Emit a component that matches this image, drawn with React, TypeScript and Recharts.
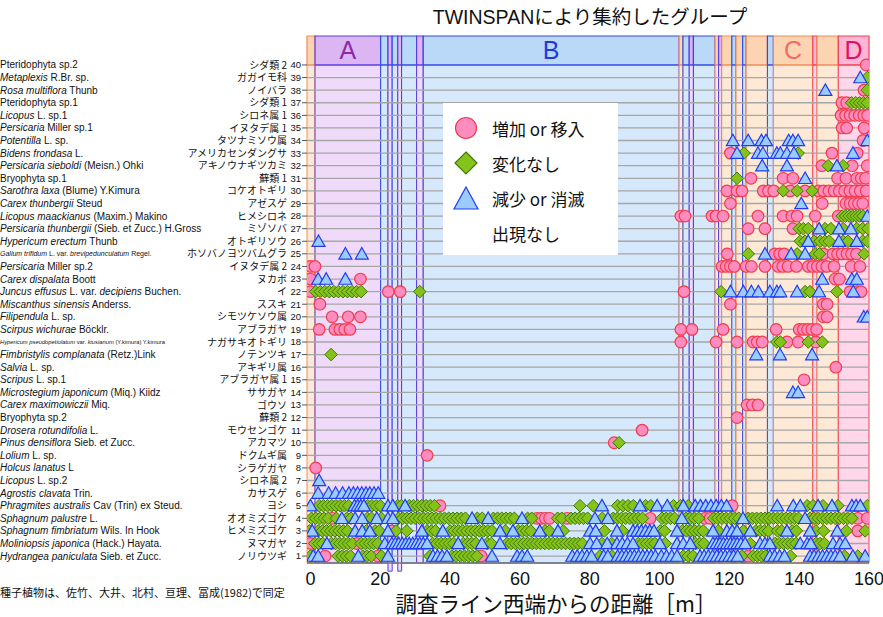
import {
  ComposedChart,
  Scatter,
  XAxis,
  YAxis,
  ReferenceArea,
  ReferenceLine,
} from "recharts";

const FONT = "'Liberation Sans', 'Noto Sans CJK JP', Arial, sans-serif";
const JP = "'Noto Sans CJK JP', 'Liberation Sans', sans-serif";

// species per row, index = row - 1 (row 1 at the bottom)
const sciNames = [
  "*Hydrangea paniculata* Sieb. et Zucc.",
  "*Moliniopsis japonica* (Hack.) Hayata.",
  "*Sphagnum fimbriatum* Wils. In Hook",
  "*Sphagnum palustre* L.",
  "*Phragmites australis* Cav (Trin) ex Steud.",
  "*Agrostis clavata* Trin.",
  "*Licopus* L. sp.2",
  "*Holcus lanatus* L",
  "*Lolium* L. sp.",
  "*Pinus densiflora* Sieb. et Zucc.",
  "*Drosera rotundifolia* L.",
  "Bryophyta sp.2",
  "*Carex maximowiczii* Miq.",
  "*Microstegium japonicum* (Miq.) Kiidz",
  "*Scripus* L. sp.1",
  "*Salvia* L. sp.",
  "*Fimbristylis complanata* (Retz.)Link",
  "*Hypericum pseudopetiolatum* var. *kiusianum* (Y.kimura) Y.kimura",
  "*Scirpus wichurae* Böcklr.",
  "*Filipendula* L. sp.",
  "*Miscanthus sinensis* Anderss.",
  "*Juncus effusus* L. var. *decipiens* Buchen.",
  "*Carex dispalata* Boott",
  "*Persicaria* Miller sp.2",
  "*Galium trifidum* L. var. *brevipedunculatum* Regel.",
  "*Hypericum erectum* Thunb",
  "*Persicaria thunbergii* (Sieb. et Zucc.) H.Gross",
  "*Licopus maackianus* (Maxim.) Makino",
  "*Carex thunbergii* Steud",
  "*Sarothra laxa* (Blume) Y.Kimura",
  "Bryophyta sp.1",
  "*Persicaria sieboldi* (Meisn.) Ohki",
  "*Bidens frondasa* L.",
  "*Potentilla* L. sp.",
  "*Persicaria* Miller sp.1",
  "*Licopus* L. sp.1",
  "Pteridophyta sp.1",
  "*Rosa multiflora* Thunb",
  "*Metaplexis* R.Br. sp.",
  "Pteridophyta sp.2",
];

const jpNames = [
  "ノリウツギ", "ヌマガヤ", "ヒメミズゴケ", "オオミズゴケ", "ヨシ",
  "カサスゲ", "シロネ属 2", "シラゲガヤ", "ドクムギ属", "アカマツ",
  "モウセンゴケ", "蘚類 2", "ゴウソ", "ササガヤ", "アブラガヤ属 1",
  "アキギリ属", "ノテンツキ", "ナガサキオトギリ", "アブラガヤ", "シモツケソウ属",
  "ススキ", "イ", "ヌカボ", "イヌタデ属 2", "ホソバノヨツバムグラ",
  "オトギリソウ", "ミゾソバ", "ヒメシロネ", "アゼスゲ", "コケオトギリ",
  "蘚類 1", "アキノウナギツカミ", "アメリカセンダングサ", "タツナミソウ属", "イヌタデ属 1",
  "シロネ属 1", "シダ類 1", "ノイバラ", "ガガイモ科", "シダ類 2",
];

const smallNameSize: Record<number, number> = { 25: 7, 18: 5.8 };

const rowTicks = [
  1, 2, 3, 4, 5, 6, 7, 8, 9, 10, 11, 12, 13, 14, 15, 16, 17, 18, 19, 20,
  21, 22, 23, 24, 25, 26, 27, 28, 29, 30, 31, 32, 33, 34, 35, 36, 37, 38, 39, 40,
];
const gridRows = rowTicks.slice(0, 39);
const xTicks = [0, 20, 40, 60, 80, 100, 120, 140, 160];

// TWINSPAN group segments along the line (m)
const bandEdges = [
  -1, 1.3, 20.1, 22.2, 23.4, 25, 26.1, 30.4, 32.3, 105.6, 106.7, 108.5, 109.7,
  115.9, 116.9, 117.8, 120.7, 121.9, 123.8, 124.8, 130.9, 132.6, 143.9, 145.1,
  151.2, 160,
];
const bandGroups = [
  "C", "A", "B", "A", "B", "A", "B", "A", "B", "C", "B", "A", "B", "C", "A",
  "C", "B", "C", "B", "C", "B", "C", "D", "C", "D",
];
const bandLabels: Record<number, string> = { 1: "A", 8: "B", 21: "C", 24: "D" };
const tabBands = [3, 5];

const groupStyle: Record<string, { body: string; head: string; line: string; text: string }> = {
  A: { body: "#efdafa", head: "#dcb6f2", line: "#5a3ee0", text: "#8a2aa8" },
  B: { body: "#d6e8fb", head: "#bad8f7", line: "#3348e6", text: "#1f3be0" },
  C: { body: "#fee9d6", head: "#fcd4b2", line: "#f08a5a", text: "#f26a6a" },
  D: { body: "#ffd6ea", head: "#ffb6d6", line: "#f04050", text: "#e8105e" },
};

// 増加 or 移入 : [row, positions (m)]
const increase: [number, number[]][] = [
  [40, [159.2]],
  [38, [158.6]],
  [37, [152.2, 153.6]],
  [36, [152, 153.3, 154.6, 155.9, 157.2, 158.5, 159.6]],
  [35, [152.3, 153.6, 158.6]],
  [34, [158.3]],
  [33, [120.3, 149.4, 156.6]],
  [32, [146.5, 155.2, 159.5]],
  [31, [126.2, 135.4, 138.2, 151, 153.4, 156.5, 157.8, 159]],
  [30, [119.3, 122.2, 123.6, 129.7, 131.2, 132.7, 137.4, 141.7, 145.5, 147, 148.5, 150, 151.5, 153, 154.5, 156, 157.5, 159.2]],
  [29, [120.3, 146.6, 153.4, 154.6, 155.8, 157, 158.2]],
  [28, [106.1, 107.3, 115, 116.2, 118.2, 128.2, 135.4, 137.9, 139.4, 144.6, 151.2]],
  [27, [125.4, 130.2, 138.2]],
  [25, [119.4, 133, 134.4, 135.7, 146.9, 149.7, 151, 152.3, 153.7, 155, 156.4]],
  [24, [0, 1.3, 117.9, 119.1, 120.3, 121.4, 124.8, 126.3, 130.2, 134, 135.3, 136.8, 139.2, 142.6, 143.9, 145.2, 146.5, 147.9, 150, 154.9, 157.4]],
  [23, [0, 14.3, 150.3, 151.5]],
  [22, [0, 22.3, 25.7, 107, 154.6, 156.6, 157.7]],
  [21, [2.7, 120.3, 146.9, 148]],
  [20, [6.2, 10.8, 14.3, 146.9, 148]],
  [19, [2.5, 7, 8.4, 9.8, 11.3, 106.1, 109.3, 118.2, 133.4, 140, 141.2, 142.4, 143.6, 145]],
  [18, [106.1, 116.2, 122.2, 126.8, 128, 129.4, 136.5, 139.7, 144.8]],
  [16, [150.5]],
  [15, [141.4]],
  [13, [125.1, 126.6, 128.2]],
  [12, [122.2]],
  [11, [95]],
  [10, [87]],
  [9, [33.4]],
  [8, [1.5]],
  [5, [37.1, 120.8]],
  [4, [6.2, 64.9, 66.1, 67.3, 68.5, 73.5, 97.3, 113, 114.5, 156.8, 159.5]],
  [3, [23.3, 156.8]],
  [2, [0, 13.3]],
  [1, [4.2, 19.3, 48.9, 125.4]],
];

// 変化なし
const unchanged: [number, number[]][] = [
  [39, [159.5]],
  [38, [159.5]],
  [37, [155, 156.2, 157.3, 158.4, 159.5]],
  [33, [124.2, 139.7]],
  [32, [148.3, 152.6]],
  [31, [122.2]],
  [30, [135.4, 139.4, 143.7]],
  [28, [152.3, 153.3, 154.3, 155.3, 156.3, 157.3, 158.3]],
  [27, [140, 141.2, 142.6, 147.4, 149.1, 152.6, 156.5, 158.2, 159.7]],
  [26, [140.3, 141.7, 144.3, 146, 147.4, 148.6, 152.6, 154, 158.2, 159.6]],
  [25, [125.4, 139.4, 144.6, 145.8, 158.6]],
  [22, [1.5, 2.8, 4.1, 5.4, 6.7, 8, 9.3, 10.6, 11.9, 13.2, 14.5, 31.3, 117.6, 141.7, 143.1, 150.8]],
  [18, [133.6, 134.6, 142.6, 146.6]],
  [17, [5.9]],
  [10, [88.4]],
  [5, [2.5, 3.7, 4.9, 6.1, 7.3, 8.5, 9.7, 10.9, 16.4, 17.6, 18.8, 20, 25, 26, 28.3, 29.5, 30.7, 31.9, 33.1, 34.3, 35.5, 77.2, 81, 88, 89.5, 91, 92.5, 96, 97.5, 104, 106, 108.2, 142.3, 144, 146.8, 151.1, 159.5]],
  [4, [0.3, 1.5, 2.7, 3.9, 5.1, 7.4, 10.4, 11.6, 16.3, 17.5, 20.3, 25.2, 26.4, 27.6, 28.8, 30, 31.2, 32.4, 33.6, 34.8, 36, 37.2, 38.4, 39.6, 40.8, 42, 43.2, 44.4, 47.8, 49.2, 52.4, 53.6, 54.8, 56, 57.2, 58.4, 62.2, 63.4, 70.8, 72, 74.6, 75.8, 77, 78.2, 79.4, 83.6, 86.7, 87.9, 89.1, 90.3, 91.5, 92.7, 93.9, 95.1, 100.7, 101.9, 103.1, 104.3, 107.6, 108.8, 110, 111.2, 115.5, 116.7, 117.9, 119.1, 120.3, 121.5, 122.7, 125.4, 126.6, 127.8, 129, 130.2, 131.4, 132.6, 133.8, 135, 136.2, 137.4, 138.6, 139.8, 143.1, 144.3, 145.5, 146.7, 147.9, 149.1, 150.3, 151.5, 152.7, 153.9, 155.1]],
  [3, [-0.3, 2.2, 3.4, 4.6, 5.8, 7, 8.2, 9.4, 10.6, 16, 18.5, 19.7, 24.5, 27.6, 33.4, 34.6, 35.8, 40, 41.2, 42.4, 43.6, 44.8, 46, 47.2, 48.4, 49.6, 50.8, 52, 55.8, 59.5, 60.7, 61.9, 63.1, 67.2, 68.4, 72.4, 84.2, 89.4, 100.2, 101.4, 106.5, 107.7, 108.9, 110.1, 111.3, 112.5, 116.8, 124, 127.6, 128.8, 130, 131.2, 133.8, 135, 138, 139.2, 144.8, 147, 153.5, 158.9]],
  [2, [1.2, 2.4, 3.5, 6, 7.2, 8.4, 9.6, 10.8, 12, 14.5, 15.7, 16.9, 18.1, 19.3, 35, 36.2, 37.4, 38.6, 39.8, 41, 43.8, 45, 46.2, 47.4, 50.6, 51.8, 56.3, 57.5, 58.7, 59.9, 61.1, 62.3, 63.5, 64.7, 65.9, 67.1, 68.3, 69.5, 70.7, 71.9, 73.1, 74.3, 75.5, 76.7, 77.9, 83.5, 86.3, 93.9, 95.1, 96.3, 97.5, 98.7, 101.6, 110.3, 111.5, 112.7, 126, 133.1, 134.3, 135.5, 136.7, 137.9, 139.1, 144.8, 146, 147.2]],
  [1, [0, 7.9, 9.1, 10.3, 11.5, 15, 16.2, 17.4, 20.3, 34.2, 40.5, 41.7, 42.9, 44.1, 45.3, 46.5, 47.7, 82.9, 86.4, 106.8, 108.2, 109.6, 123.6, 126.8, 128, 129.2, 130.4, 137.5, 153, 156.8]],
];

// 減少 or 消滅
const decrease: [number, number[]][] = [
  [39, [157.5]],
  [38, [147.5]],
  [34, [121, 125.4, 129.2, 130.5, 137, 138.2, 139.7, 159.5]],
  [33, [122.2, 128.2, 129.6, 133.6, 134.6, 136.5, 138.5, 155.4]],
  [32, [129.4, 136.5, 150.8]],
  [31, [141.7]],
  [29, [140.6]],
  [28, [159.5]],
  [27, [145.7, 151.4, 154.8]],
  [26, [2.3, 142.6, 151.4, 156.5]],
  [25, [10, 14.7, 130.2, 137.7, 141.7]],
  [23, [2.2, 4.5, 10, 146.6, 155.1, 156.5]],
  [22, [120.3, 124, 126.3, 128.3, 131.6, 133.6, 134.6, 139.4, 145.7, 155.5]],
  [20, [158.5, 159.5]],
  [17, [127.7, 134.5, 143.7]],
  [14, [138.2, 139.7]],
  [7, [2.5]],
  [6, [2.2, 5.2, 7.2, 9.2, 11, 12.3, 13.5, 14.7, 15.9, 17, 18.2, 19.4]],
  [5, [0, 12.6, 13.5, 14.4, 15.3, 22.2, 23.6, 27.1, 83.5, 94.4, 99.3, 102.2, 106.8, 110.2, 111.7, 113.2, 114.7, 116.2, 117.7, 119.2, 133.7, 138.3, 140.3, 145.4, 149.4, 155.1, 156.3, 157.5]],
  [4, [9, 12.8, 14.8, 19, 22.2, 23.6, 46.3, 50.9, 60.6, 81.5, 85.2, 106.4, 123.9, 141.7]],
  [3, [0.5, 12.8, 14.8, 17, 22.2, 31.9, 37.9, 54.3, 58, 65.7, 70.9, 80.1, 81.7, 87.8, 92.4, 93.6, 94.8, 96, 97.2, 98.4, 105, 115.3, 119.3, 120.8, 122.2, 126, 136.5, 143.1, 150.9]],
  [2, [4.7, 21.3, 23.3, 24.3, 25.3, 26.3, 27.3, 28.3, 29.3, 30.3, 31.3, 32.3, 33.4, 42.3, 49.1, 54.3, 80.1, 82, 85, 87.8, 89.3, 90.8, 92.4, 100.1, 105, 106.8, 108.8, 115.3, 116.3, 117.3, 118.3, 119.3, 120.3, 121.3, 122.3, 123.3, 124.5, 128.8, 130.2, 131.6, 140.3, 142.3, 143.3, 149.7, 151.7, 153.2]],
  [1, [0.8, 2.2, 13.7, 22.2, 35.1, 36.4, 37.7, 39.1, 52, 59.2, 60.6, 62.1, 75, 76.4, 77.8, 79.2, 80.5, 84, 85.2, 88, 89.2, 90.4, 91.6, 92.8, 94, 95.2, 96.4, 97.6, 98.8, 100.5, 102, 103.5, 105, 111.6, 112.8, 114, 115.2, 116.4, 117.6, 118.8, 120, 121.2, 122.4, 131.6, 133, 134.4, 135.8, 143.1, 144.3, 145.5, 146.7, 147.9, 149.1, 150.3, 151.7, 155.4, 158.9]],
];

const legendItems = ["増加 or 移入", "変化なし", "減少 or 消滅", "出現なし"];

const toPoints = (list: [number, number[]][]) =>
  list.flatMap(([row, xs]) => xs.map((x) => ({ x, y: row })));

const PINK = { fill: "#ff8cbf", stroke: "#f03c4c" };
const GREEN = { fill: "#86c21c", stroke: "#3d7a00" };
const BLUE = { fill: "#9ccbff", stroke: "#1f3cf0" };

const CircleMark = (p: any) => (
  <circle cx={p.cx} cy={p.cy} r={5.8} fill={PINK.fill} stroke={PINK.stroke} strokeWidth={1.2} />
);
const DiamondMark = (p: any) => (
  <polygon
    points={`${p.cx},${p.cy - 6.3} ${p.cx + 6.3},${p.cy} ${p.cx},${p.cy + 6.3} ${p.cx - 6.3},${p.cy}`}
    fill={GREEN.fill}
    stroke={GREEN.stroke}
    strokeWidth={1}
  />
);
const TriangleMark = (p: any) => (
  <polygon
    points={`${p.cx},${p.cy - 6.3} ${p.cx + 6.5},${p.cy + 5.2} ${p.cx - 6.5},${p.cy + 5.2}`}
    fill={BLUE.fill}
    stroke={BLUE.stroke}
    strokeWidth={1.2}
  />
);

const SpeciesTick = (props: any) => {
  const row = props.payload.value;
  const y = props.y;
  const parts = sciNames[row - 1].split("*");
  const size = smallNameSize[row] || 10;
  return (
    <g>
      <text x={0} y={y} dy="0.35em" fontSize={size} fill="#111" fontFamily={FONT}>
        {parts.map((t, i) =>
          t ? (
            <tspan key={i} fontStyle={i % 2 === 1 ? "italic" : "normal"}>
              {t}
            </tspan>
          ) : null
        )}
      </text>
      <text x={287} y={y} dy="0.36em" fontSize={10} fill="#111" textAnchor="end" fontFamily={JP}>
        {jpNames[row - 1]}
      </text>
      <text x={301} y={y} dy="0.36em" fontSize={9.5} fill="#111" textAnchor="end" fontFamily={FONT}>
        {row}
      </text>
    </g>
  );
};

const LegendIcon = ({ i }: { i: number }) => {
  if (i === 0)
    return <circle cx={13} cy={12} r={10.5} fill={PINK.fill} stroke={PINK.stroke} strokeWidth={1.2} />;
  if (i === 1)
    return <polygon points="13,1 24,12 13,23 2,12" fill={GREEN.fill} stroke={GREEN.stroke} strokeWidth={1.2} />;
  if (i === 2)
    return <polygon points="13,1 25,23 1,23" fill={BLUE.fill} stroke={BLUE.stroke} strokeWidth={1.2} />;
  return null;
};

export default function App() {
  const circles = toPoints(increase);
  const diamonds = toPoints(unchanged);
  const triangles = toPoints(decrease);
  const segs = bandGroups.map((g, i) => ({ g, x1: bandEdges[i], x2: bandEdges[i + 1], i }));

  return (
    <div style={{ position: "absolute", left: 0, top: 0, width: 883, height: 617, background: "#fff", fontFamily: FONT }}>
      <ComposedChart width={883} height={617} margin={{ top: 36, right: 14, bottom: 24, left: 0 }}>
        <XAxis
          type="number"
          dataKey="x"
          domain={[-1, 160]}
          ticks={xTicks}
          allowDataOverflow
          height={30}
          tickLine={false}
          tickMargin={3}
          axisLine={{ stroke: "#777", strokeWidth: 1.3 }}
          tick={{ fontSize: 18, fill: "#111", fontFamily: FONT }}
        />
        <YAxis
          type="number"
          dataKey="y"
          domain={[0.45, 42.3]}
          ticks={rowTicks}
          interval={0}
          allowDataOverflow
          width={307}
          tickSize={5}
          axisLine={false}
          tickLine={{ stroke: "#555" }}
          tick={(p: any) => <SpeciesTick {...p} />}
        />
        {segs.map((s) => (
          <ReferenceArea
            key={`b${s.i}`}
            x1={s.x1}
            x2={s.x2}
            y1={tabBands.includes(s.i) ? -0.2 : 0.45}
            y2={40}
            ifOverflow="visible"
            fill={groupStyle[s.g].body}
            fillOpacity={1}
            stroke={groupStyle[s.g].line}
            strokeWidth={1}
          />
        ))}
        {gridRows.map((r) => (
          <ReferenceLine key={`g${r}`} y={r} stroke="#a6a6a6" strokeWidth={1.3} />
        ))}
        {segs.map((s) => (
          <ReferenceArea
            key={`h${s.i}`}
            x1={s.x1}
            x2={s.x2}
            y1={40}
            y2={42.3}
            fill={groupStyle[s.g].head}
            fillOpacity={1}
            stroke={groupStyle[s.g].line}
            strokeWidth={1.2}
            label={
              bandLabels[s.i]
                ? { value: bandLabels[s.i], position: "center", fill: groupStyle[s.g].text, fontSize: 25, fontFamily: FONT }
                : undefined
            }
          />
        ))}
        <Scatter data={circles} shape={CircleMark} isAnimationActive={false} />
        <Scatter data={diamonds} shape={DiamondMark} isAnimationActive={false} />
        <Scatter data={triangles} shape={TriangleMark} isAnimationActive={false} />
      </ComposedChart>

      <div style={{ position: "absolute", left: 390, top: 4, width: 400, textAlign: "center", fontSize: 19.5, color: "#111", fontFamily: FONT, lineHeight: "26px" }}>
        TWINSPANにより集約したグループ
      </div>

      <div style={{ position: "absolute", left: 443, top: 103, width: 175, height: 152, background: "#fff" }}>
        {legendItems.map((t, i) => (
          <div key={t} style={{ position: "absolute", left: 10, top: 12 + i * 35, height: 26, display: "flex", alignItems: "center" }}>
            <svg width={26} height={24} style={{ display: "block" }}>
              <LegendIcon i={i} />
            </svg>
            <span style={{ marginLeft: 13, fontSize: 17, color: "#111", fontFamily: JP, whiteSpace: "nowrap" }}>{t}</span>
          </div>
        ))}
      </div>

      <div style={{ position: "absolute", left: 0, top: 585, fontSize: 11, color: "#111", fontFamily: JP, whiteSpace: "nowrap", lineHeight: "14px" }}>
        種子植物は、佐竹、大井、北村、亘理、冨成(1982)で同定
      </div>

      <div style={{ position: "absolute", left: 356, top: 589, width: 400, textAlign: "center", fontSize: 21.5, color: "#111", fontFamily: JP, whiteSpace: "nowrap", lineHeight: "28px" }}>
        調査ライン西端からの距離［m］
      </div>
    </div>
  );
}
